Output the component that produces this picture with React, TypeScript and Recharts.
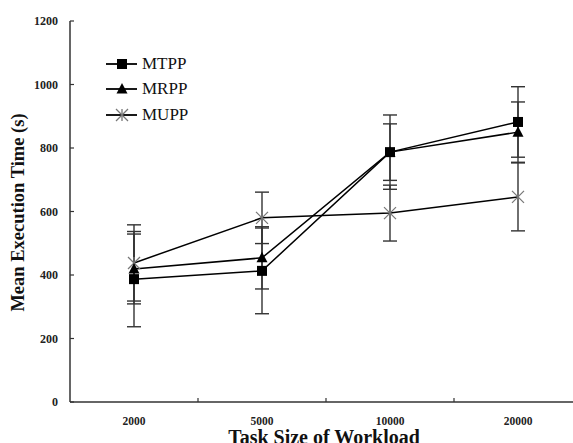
import React from 'react';
import { ComposedChart, Line, XAxis, YAxis, ErrorBar, Legend } from 'recharts';

const categories = ['2000', '5000', '10000', '20000'];
const mtpp = [387, 413, 787, 882];
const mtppErr = [150, 135, 117, 111];
const mrpp = [419, 454, 787, 850];
const mrppErr = [110, 98, 89, 95];
const mupp = [438, 580, 595, 646];
const muppErr = [120, 81, 88, 107];
const yTicks = [0, 200, 400, 600, 800, 1000, 1200];

const seriesNames = ['MTPP', 'MRPP', 'MUPP'];
const markerOf: Record<string, string> = { MTPP: 'square', MRPP: 'triangle', MUPP: 'star' };

const data = categories.map((c, i) => ({
  cat: c,
  MTPP: mtpp[i],
  MTPPErr: mtppErr[i],
  MRPP: mrpp[i],
  MRPPErr: mrppErr[i],
  MUPP: mupp[i],
  MUPPErr: muppErr[i],
}));

const FONT = '"Liberation Serif", "DejaVu Serif", serif';

function Marker({ kind, cx, cy }: { kind: string; cx: number; cy: number }) {
  if (kind === 'square') {
    return <rect x={cx - 5} y={cy - 5} width={10} height={10} fill="#000" />;
  }
  if (kind === 'triangle') {
    return <polygon points={`${cx},${cy - 6} ${cx + 5.5},${cy + 4.5} ${cx - 5.5},${cy + 4.5}`} fill="#000" />;
  }
  const r = 6;
  return (
    <g stroke="#777" strokeWidth={1.3}>
      <line x1={cx - r} y1={cy - r} x2={cx + r} y2={cy + r} />
      <line x1={cx - r} y1={cy + r} x2={cx + r} y2={cy - r} />
      <line x1={cx} y1={cy - r} x2={cx} y2={cy + r} />
    </g>
  );
}

const makeDot = (kind: string) => (props: any) => {
  const { cx, cy, index } = props;
  if (cx == null || cy == null) return <g key={index} />;
  return (
    <g key={`${kind}-${index}`}>
      <Marker kind={kind} cx={cx} cy={cy} />
    </g>
  );
};

const XTick = (props: any) => {
  const { x, y, payload, index } = props;
  const off = payload.offset || 0;
  return (
    <g>
      {index < categories.length - 1 && (
        <line x1={x + off} y1={y} x2={x + off} y2={y - 4} stroke="#333" strokeWidth={1.2} />
      )}
      <text x={x} y={y + 23} textAnchor="middle" fontFamily={FONT} fontWeight="bold" fontSize={11.5} fill="#222">
        {payload.value}
      </text>
    </g>
  );
};

const YTick = (props: any) => {
  const { x, y, payload } = props;
  return (
    <g>
      <line x1={x} y1={y} x2={x + 4} y2={y} stroke="#333" strokeWidth={1.2} />
      <text x={x - 12} y={y + 4} textAnchor="end" fontFamily={FONT} fontWeight="bold" fontSize={12} fill="#222">
        {payload.value}
      </text>
    </g>
  );
};

const LegendContent = () => (
  <div>
    {seriesNames.map((n) => (
      <div key={n} style={{ height: 25.5, display: 'flex', alignItems: 'center' }}>
        <svg width={36} height={20} style={{ display: 'block' }}>
          <line x1={2} y1={10} x2={33} y2={10} stroke="#000" strokeWidth={1.8} />
          <Marker kind={markerOf[n]} cx={18} cy={10} />
        </svg>
        <span style={{ fontFamily: FONT, fontSize: 17, color: '#111', marginLeft: 2 }}>{n}</span>
      </div>
    ))}
  </div>
);

export default function App() {
  return (
    <div style={{ position: 'absolute', left: 0, top: 0, width: 573, height: 443, overflow: 'hidden', background: '#fff' }}>
      <ComposedChart width={600} height={443} data={data} margin={{ top: 21, right: 18, bottom: 0, left: 0 }}>
        <XAxis
          dataKey="cat"
          scale="band"
          height={41}
          tickSize={0}
          tickMargin={0}
          tick={<XTick />}
          tickLine={false}
          axisLine={{ stroke: '#333', strokeWidth: 1.5 }}
          interval={0}
          label={(p: any) => {
            const vb = p.viewBox || { x: 70, y: 402, width: 512, height: 41 };
            return (
              <text x={vb.x + vb.width / 2 - 2} y={vb.y + 42} textAnchor="middle" fontFamily={FONT} fontWeight="bold" fontSize={20} fill="#111">
                Task Size of Workload
              </text>
            );
          }}
        />
        <YAxis
          width={70}
          domain={[0, 1200]}
          ticks={yTicks}
          tickSize={0}
          tickMargin={0}
          tick={<YTick />}
          tickLine={false}
          axisLine={{ stroke: '#333', strokeWidth: 1.5 }}
          interval={0}
          label={(p: any) => {
            const vb = p.viewBox || { x: 0, y: 21, width: 70, height: 381 };
            const cy = vb.y + vb.height / 2 + 1;
            return (
              <text x={24} y={cy} transform={`rotate(-90 24 ${cy})`} textAnchor="middle" fontFamily={FONT} fontWeight="bold" fontSize={18.5} fill="#111">
                Mean Execution Time (s)
              </text>
            );
          }}
        />
        <Legend
          layout="vertical"
          align="center"
          verticalAlign="middle"
          content={<LegendContent />}
          wrapperStyle={{ position: 'absolute', left: 104, top: 51, width: 120 }}
        />
        <Line type="linear" dataKey="MUPP" name="MUPP" stroke="#000" strokeWidth={1.5} dot={makeDot('star')} isAnimationActive={false}>
          <ErrorBar dataKey="MUPPErr" width={7} stroke="#333" strokeWidth={1.4} direction="y" isAnimationActive={false} />
        </Line>
        <Line type="linear" dataKey="MRPP" name="MRPP" stroke="#000" strokeWidth={1.5} dot={makeDot('triangle')} isAnimationActive={false}>
          <ErrorBar dataKey="MRPPErr" width={7} stroke="#333" strokeWidth={1.4} direction="y" isAnimationActive={false} />
        </Line>
        <Line type="linear" dataKey="MTPP" name="MTPP" stroke="#000" strokeWidth={1.5} dot={makeDot('square')} isAnimationActive={false}>
          <ErrorBar dataKey="MTPPErr" width={7} stroke="#333" strokeWidth={1.4} direction="y" isAnimationActive={false} />
        </Line>
      </ComposedChart>
    </div>
  );
}
